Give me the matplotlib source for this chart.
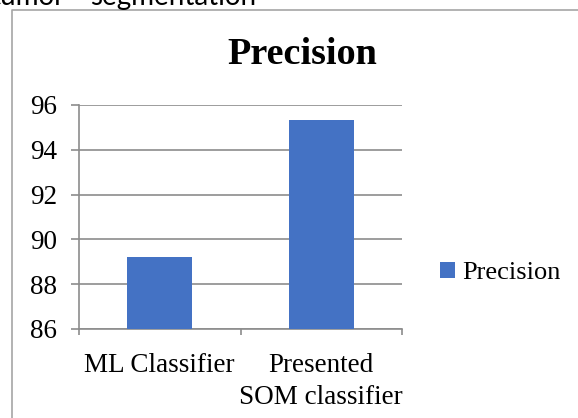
import matplotlib
matplotlib.use('Agg')
import matplotlib.pyplot as plt
from matplotlib.lines import Line2D
import numpy as np

# data
categories = ['ML Classifier', 'Presented\nSOM classifier']
precision = [89.2, 95.35]
yticks = [86, 88, 90, 92, 94, 96]
series_name = 'Precision'

W, H = 578, 418
bar_color = '#4472C4'
grid_color = '#8c8c8c'

plt.rcParams['font.family'] = ['Liberation Serif', 'DejaVu Serif']

fig = plt.figure(figsize=(W / 100, H / 100), dpi=100)
ax = fig.add_axes([79 / W, 89 / H, 323 / W, 224 / H])

x = np.arange(len(categories))
ax.bar(x, precision, width=0.4, color=bar_color, label=series_name, zorder=3)

ax.set_xlim(-0.5, len(categories) - 0.5)
ax.set_ylim(yticks[0], yticks[-1])
ax.set_yticks(yticks)
ax.set_yticklabels([str(t) for t in yticks])
ax.yaxis.grid(True, color=grid_color, lw=1.2, zorder=0)
ax.set_axisbelow(True)

ax.set_xticks(x)
ax.set_xticklabels(categories, fontsize=19.5, linespacing=1.4)
ax.set_xticks(np.arange(len(categories) + 1) - 0.5, minor=True)
ax.tick_params(axis='x', which='major', length=0, pad=17)
ax.tick_params(axis='x', which='minor', length=4, color=grid_color, width=1.2)
ax.tick_params(axis='y', length=6, color=grid_color, width=1.2, pad=10,
               labelsize=19.5)

for s in ['top', 'right']:
    ax.spines[s].set_visible(False)
for s in ['left', 'bottom']:
    ax.spines[s].set_color(grid_color)
    ax.spines[s].set_linewidth(1.2)

fig.text(302 / W, 1 - 54 / H, 'Precision', ha='center', va='center',
         fontsize=27.5, fontweight='bold')

ax.legend(loc='center left', bbox_to_anchor=(440 / W, 1 - 273 / H),
          bbox_transform=fig.transFigure, frameon=False, fontsize=19,
          handlelength=0.55, handleheight=0.55, handletextpad=0.3,
          borderpad=0, borderaxespad=0)

# chart frame and the clipped document line above it
fig.add_artist(Line2D([12 / W, 12 / W, 1], [0, 1 - 10 / H, 1 - 10 / H],
                      transform=fig.transFigure, color='#a6a6a6', lw=1.2))
fig.text(65 / W, 1 - 5 / H, 'tumor', ha='right', va='baseline',
         fontsize=20, family=['Lato', 'DejaVu Sans'])
fig.text(90 / W, 1 - 5 / H, 'segmentation', ha='left', va='baseline',
         fontsize=20, family=['Lato', 'DejaVu Sans'])

fig.savefig('out.png', dpi=100)
